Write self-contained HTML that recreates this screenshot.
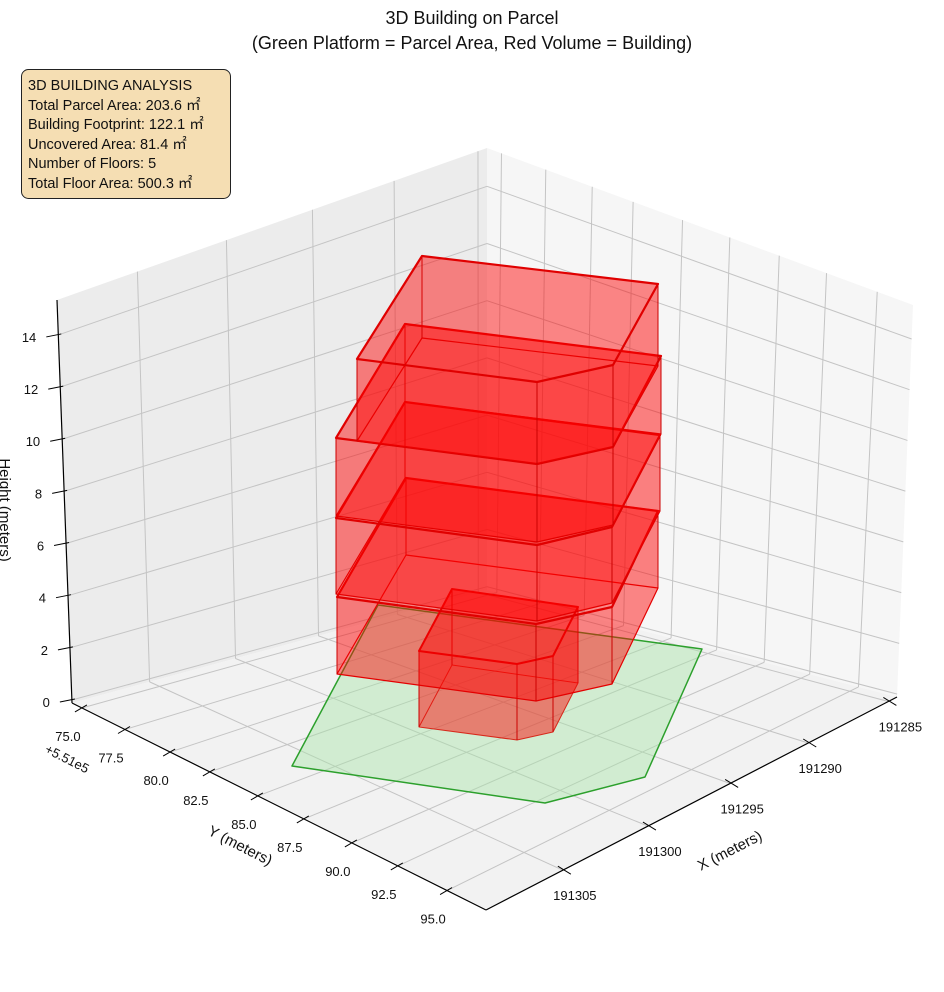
<!DOCTYPE html>
<html><head><meta charset="utf-8"><style>
html,body{margin:0;padding:0;background:#fff;}
svg{display:block;font-family:"Liberation Sans","DejaVu Sans",sans-serif;}
</style></head><body>
<svg id="s" width="944" height="992" viewBox="0 0 944 992" xmlns="http://www.w3.org/2000/svg">
<text x="472" y="24" font-size="18" text-anchor="middle" fill="#111">3D Building on Parcel</text>
<text x="472" y="49" font-size="18" text-anchor="middle" fill="#111">(Green Platform = Parcel Area, Red Volume = Building)</text>
<g id="g"></g>
<rect x="21.5" y="69.5" width="209" height="129" rx="7" fill="#f5deb3" stroke="#222" stroke-width="1"/>
<g font-size="14.5" fill="#111">
<text x="28" y="90">3D BUILDING ANALYSIS</text>
<text x="28" y="110">Total Parcel Area: 203.6 ㎡</text>
<text x="28" y="129">Building Footprint: 122.1 ㎡</text>
<text x="28" y="149">Uncovered Area: 81.4 ㎡</text>
<text x="28" y="168">Number of Floors: 5</text>
<text x="28" y="188">Total Floor Area: 500.3 ㎡</text>
</g>
</svg>
<script>
const g=document.getElementById('g');let h='';
const L=[72,703],F=[486,910],R=[897,697],B=[487,590],Lt=[57,300],Bt=[487,148],Rt=[913,305];
const lp=(a,b,t)=>[a[0]+(b[0]-a[0])*t,a[1]+(b[1]-a[1])*t];
const poly=(pts,fill,stroke,sw,op)=>h+=`<polygon points="${pts.map(p=>p.join(',')).join(' ')}" fill="${fill}" fill-opacity="${op}" stroke="${stroke}" stroke-width="${sw}" stroke-linejoin="round"/>`;
const line=(a,b,c,w)=>h+=`<line x1="${a[0]}" y1="${a[1]}" x2="${b[0]}" y2="${b[1]}" stroke="${c}" stroke-width="${w}"/>`;
poly([L,B,Bt,Lt],'#ececec','none',0,1);
poly([B,R,Rt,Bt],'#f6f6f6','none',0,1);
poly([L,F,R,B],'#f2f2f2','none',0,1);
const gc='#c4c4c4';
const yf=[.024,.128,.237,.333,.449,.56,.676,.787,.906];
yf.forEach(t=>{line(lp(L,F,t),lp(B,R,t),gc,1);line(lp(B,R,t),lp(Bt,Rt,t+0.01),gc,1);});
const xf=[.187,.394,.594,.784,.979];
xf.forEach(t=>{const u=1-t;line(lp(F,R,t),lp(L,B,1-u),gc,1);const bl=lp(B,L,u);const tl=lp(Bt,Lt,u);line(bl,tl,gc,1);});
for(let z=0;z<=14;z+=2){const f=0.0075+z*0.0647;const a=lp(L,Lt,f),b=[487,590-442*f],c=[897+16*f,697-392*f];line(a,b,gc,1);line(b,c,gc,1);}
poly([[292,766],[378,605],[702,649],[645,777],[545,803]],'#a8e4a8','#2ca02c',1.5,0.45);
const P=[
[[[452,589],[578,607],[553,656],[517,664],[419,651]],76,2],
[[[406,478],[658,511],[612,607],[536,624],[337,597]],77,2.2],
[[[405,402],[660,435],[612,527],[537,545],[336,518]],76,2.2],
[[[405,324],[661,356],[613,447],[537,464],[336,438]],78,2.2],
[[[422,256],[658,284],[613,365],[537,382],[357,359]],82,2.2]];
P.forEach(([top,dz,w],k)=>{const bot=top.map(p=>[p[0],p[1]+dz]);
poly(bot,'#ff0000',k==0?'#d03020':'#e00000',k==0?1:1.2,0.25);
for(let i=0;i<5;i++){const j=(i+1)%5;poly([top[i],top[j],bot[j],bot[i]],'#ff0000','none',0,0.28);}
for(let i=0;i<5;i++)line(top[i],bot[i],'#cc0000',1);
poly(top,'#ff0000','#e00000',w,0.25);});
line(Lt,L,'#000',1.2);line(L,F,'#000',1.2);line(F,R,'#000',1.2);
for(let z=0;z<=14;z+=2){const f=0.0075+z*0.0647;const a=lp(L,Lt,f);line([a[0]-12,a[1]+2],[a[0]+3,a[1]-1],'#000',1);
h+=`<text x="${a[0]-22}" y="${a[1]+7}" font-size="13" text-anchor="end" fill="#111">${z}</text>`;}
const yl=['75.0','77.5','80.0','82.5','85.0','87.5','90.0','92.5','95.0'];
yf.forEach((t,i)=>{const p=lp(L,F,t);line([p[0]-7,p[1]+4],[p[0]+5,p[1]-3],'#000',1);
h+=`<text x="${p[0]-14}" y="${p[1]+33}" font-size="13" text-anchor="middle" fill="#111">${yl[i]}</text>`;});
const xl=['191305','191300','191295','191290','191285'];
xf.forEach((t,i)=>{const p=lp(F,R,t);line([p[0]-5,p[1]-4],[p[0]+8,p[1]+4],'#000',1);
h+=`<text x="${p[0]+12}" y="${p[1]+30}" font-size="13" text-anchor="middle" fill="#111">${xl[i]}</text>`;});
h+=`<text x="44" y="752" font-size="13" fill="#111" transform="rotate(27 44 752)">+5.51e5</text>`;
h+=`<text x="238" y="850" font-size="15" fill="#111" text-anchor="middle" transform="rotate(27 238 850)">Y (meters)</text>`;
h+=`<text x="732" y="855" font-size="15" fill="#111" text-anchor="middle" transform="rotate(-27 732 855)">X (meters)</text>`;
h+=`<text x="0" y="510" font-size="15" fill="#111" text-anchor="middle" transform="rotate(90 0 510)">Height (meters)</text>`;
g.innerHTML=h;
</script>
</body></html>
